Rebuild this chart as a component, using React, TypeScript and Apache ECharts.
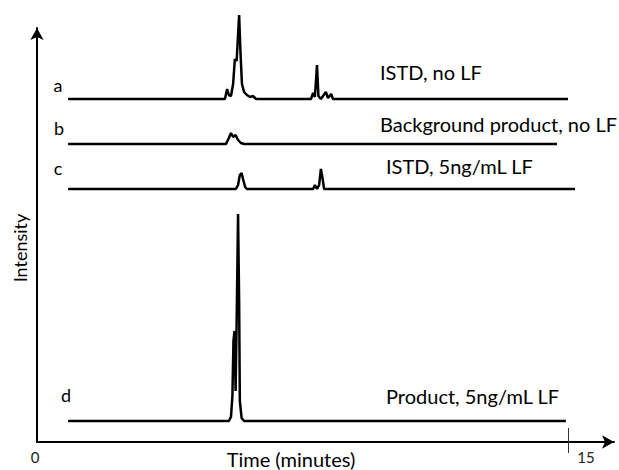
import React, { useEffect, useRef } from "react";
import * as echarts from "echarts";

const FONT = "Lato, 'Open Sans', sans-serif";

// x axis: time in minutes; y: intensity (arbitrary units, traces stacked with offsets)
const xTickValues = [0, 15];
const xMax = 16.3;
const yMax = 414;

const traceNames = ["a", "b", "c", "d"];
const traceLabels = ["ISTD, no LF", "Background product, no LF", "ISTD, 5ng/mL LF", "Product, 5ng/mL LF"];
const traceOffsets = [343, 298, 253, 21];

const timesA = [0.88, 5.31, 5.37, 5.42, 5.48, 5.54, 5.59, 5.64, 5.71, 5.75, 5.79, 5.85, 5.93, 6.02, 6.1, 6.19, 7.74, 7.8, 7.85, 7.91, 7.95, 8.02, 8.16, 8.22, 8.31, 8.36, 15.0];
const signalA = [0, 0, 10, 4, 3, 15, 40, 38, 84, 45, 15, 7, 4, 2, 3, 0, 0, 6, 2, 34, 3, 0, 7, 1, 5, 0, 0];

const timesB = [0.88, 5.34, 5.42, 5.48, 5.54, 5.61, 5.68, 5.76, 5.85, 14.69];
const signalB = [0, 0, 6, 11, 7, 9, 4, 1, 0, 0];

const timesC = [0.88, 5.62, 5.68, 5.73, 5.78, 5.82, 5.88, 5.93, 7.8, 7.85, 7.91, 7.97, 8.02, 8.07, 8.11, 15.2];
const signalC = [0, 0, 4, 14, 16, 10, 2, 0, 0, 4, 0, 4, 20, 10, 0, 0];

const timesD = [0.88, 5.42, 5.48, 5.52, 5.55, 5.58, 5.61, 5.64, 5.68, 5.71, 5.73, 5.78, 5.85, 14.94];
const signalD = [0, 0, 4, 25, 80, 90, 30, 100, 207, 120, 20, 3, 0, 0];

const traceTimes = [timesA, timesB, timesC, timesD];
const traceSignals = [signalA, signalB, signalC, signalD];

export default function App() {
  const ref = useRef<HTMLDivElement>(null);

  useEffect(() => {
    if (!ref.current) return;
    const chart = echarts.init(ref.current, null, { renderer: "svg" });

    const series: any[] = traceNames.map((name, i) => ({
      name,
      type: "line",
      showSymbol: false,
      symbol: "none",
      clip: false,
      lineStyle: { color: "#000", width: 2.5 },
      data: traceTimes[i].map((t, j) => [t, traceOffsets[i] + traceSignals[i][j]]),
      z: 3,
    }));

    series.push({
      type: "line",
      data: [],
      markLine: {
        silent: true,
        symbol: "none",
        label: { show: false },
        lineStyle: { color: "#333", width: 1, type: "solid" },
        data: [[{ coord: [15, 0] }, { coord: [15, 14] }]],
      },
    });

    const option: any = {
      animation: false,
      grid: { left: 37, right: 5, top: 28, bottom: 28, containLabel: false },
      xAxis: {
        type: "value",
        min: 0,
        max: xMax,
        splitLine: { show: false },
        axisLine: {
          lineStyle: { color: "#000", width: 2 },
          symbol: ["none", "arrow"],
          symbolSize: [10, 12],
        },
        axisTick: { show: true, customValues: [15], length: 11, lineStyle: { color: "#333", width: 1 } },
        axisLabel: {
          customValues: xTickValues,
          margin: 7,
          formatter: (v: number) => (v === 15 ? "{r|15}" : "{l|0}"),
          rich: {
            l: { fontFamily: FONT, fontSize: 15, color: "#222", padding: [0, 4, 0, 0] },
            r: { fontFamily: FONT, fontSize: 15, color: "#222", padding: [0, 0, 0, 36] },
          },
        },
      },
      yAxis: {
        type: "value",
        min: 0,
        max: yMax,
        splitLine: { show: false },
        axisTick: { show: false },
        axisLabel: { show: false },
        axisLine: {
          show: true,
          lineStyle: { color: "#000", width: 2 },
          symbol: ["none", "arrow"],
          symbolSize: [10, 12],
        },
      },
      graphic: [
        { type: "text", x: 58, y: 85, style: { text: "a", font: `18px ${FONT}`, fill: "#000", align: "center", verticalAlign: "middle" } },
        { type: "text", x: 59, y: 128, style: { text: "b", font: `18px ${FONT}`, fill: "#000", align: "center", verticalAlign: "middle" } },
        { type: "text", x: 58, y: 168, style: { text: "c", font: `18px ${FONT}`, fill: "#000", align: "center", verticalAlign: "middle" } },
        { type: "text", x: 66, y: 395, style: { text: "d", font: `18px ${FONT}`, fill: "#000", align: "center", verticalAlign: "middle" } },
        { type: "text", x: 380, y: 72, style: { text: traceLabels[0], font: `20px ${FONT}`, fill: "#000", align: "left", verticalAlign: "middle" } },
        { type: "text", x: 380, y: 124, style: { text: traceLabels[1], font: `20px ${FONT}`, fill: "#000", align: "left", verticalAlign: "middle" } },
        { type: "text", x: 386, y: 166, style: { text: traceLabels[2], font: `20px ${FONT}`, fill: "#000", align: "left", verticalAlign: "middle" } },
        { type: "text", x: 386, y: 396, style: { text: traceLabels[3], font: `20px ${FONT}`, fill: "#000", align: "left", verticalAlign: "middle" } },
        { type: "text", x: 291, y: 459, style: { text: "Time (minutes)", font: `20px ${FONT}`, fill: "#000", align: "center", verticalAlign: "middle" } },
        { type: "text", x: 20, y: 248, rotation: Math.PI / 2, style: { text: "Intensity", font: `18px ${FONT}`, fill: "#000", align: "center", verticalAlign: "middle" } },
      ],
      series,
    };

    chart.setOption(option);
    return () => chart.dispose();
  }, []);

  return <div ref={ref} style={{ width: 619, height: 470, position: "absolute", left: 0, top: 0, background: "#fff" }} />;
}
